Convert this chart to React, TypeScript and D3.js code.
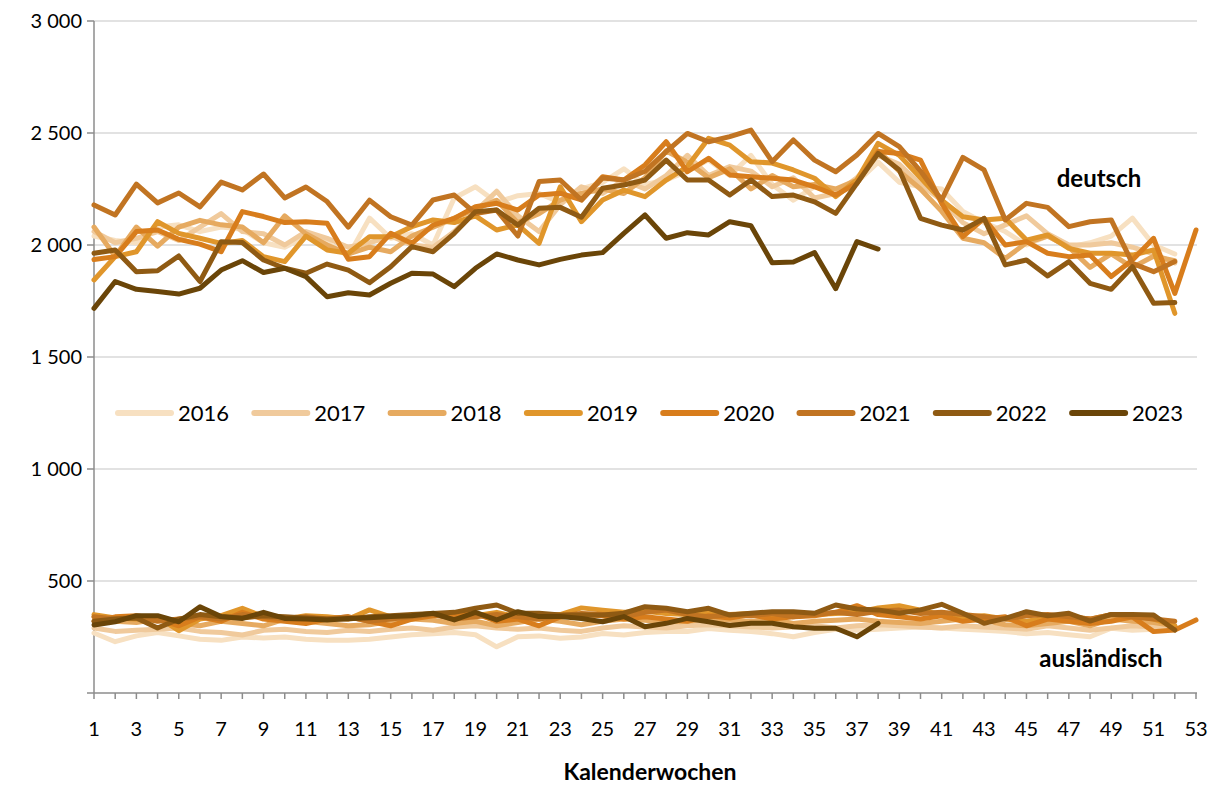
import React from 'react';
import * as d3 from 'd3';

const years = ['2016', '2017', '2018', '2019', '2020', '2021', '2022', '2023'];
const colors = ['#f7e0c1', '#f0ca9c', '#e6aa60', '#e0962b', '#d87d1c', '#c17422', '#8f5a13', '#6a4508'];
const yTicks = [500, 1000, 1500, 2000, 2500, 3000];
const xLabels = d3.range(1, 54, 2);

// deutsch
const deutsch2016 = [2040, 2020, 2010, 2080, 2090, 2060, 2080, 2070, 2010, 1990, 2040, 2010, 1950, 2120, 2030, 2050, 2000, 2210, 2260, 2190, 2220, 2230, 2190, 2250, 2280, 2340, 2270, 2290, 2330, 2380, 2310, 2400, 2270, 2200, 2260, 2240, 2280, 2370, 2280, 2260, 2250, 2150, 2100, 2060, 2000, 2040, 1990, 2010, 2040, 2120, 2000, 1960];
const deutsch2017 = [2060, 2010, 2030, 2060, 2020, 2080, 2140, 2060, 2050, 2000, 2060, 2030, 1990, 2010, 2040, 2000, 1990, 2060, 2150, 2240, 2130, 2060, 2180, 2260, 2230, 2290, 2250, 2310, 2400, 2310, 2350, 2330, 2260, 2300, 2210, 2230, 2300, 2400, 2360, 2270, 2200, 2100, 2050, 2090, 2130, 2050, 2000, 2000, 2010, 1990, 1960, 1920];
const deutsch2018 = [2080, 1950, 2080, 1995, 2080, 2110, 2090, 2080, 2010, 2130, 2050, 2000, 1960, 1990, 1970, 2040, 2080, 2120, 2160, 2200, 2100, 2140, 2200, 2230, 2250, 2230, 2300, 2420, 2370, 2300, 2340, 2250, 2310, 2260, 2270, 2250, 2290, 2420, 2330, 2250, 2150, 2030, 2010, 1940, 2010, 2040, 1990, 1900, 1960, 1900, 1950, 1930];
const deutsch2019 = [1844, 1948, 1970, 2104, 2052, 2030, 2007, 2020, 1948, 1926, 2040, 1978, 1963, 2037, 2037, 2082, 2112, 2100, 2130, 2067, 2090, 2007, 2260, 2104, 2201, 2245, 2216, 2290, 2350, 2476, 2446, 2372, 2366, 2335, 2298, 2216, 2290, 2454, 2400, 2300, 2200, 2126, 2112, 2119, 2022, 2045, 1985, 1963, 1963, 1955, 1978, 1695];
const deutsch2020 = [1935, 1948, 2060, 2067, 2025, 2004, 1970, 2149, 2127, 2100, 2104, 2097, 1936, 1948, 2052, 2007, 2089, 2119, 2171, 2186, 2156, 2223, 2231, 2201, 2305, 2290, 2357, 2461, 2327, 2387, 2313, 2305, 2298, 2290, 2260, 2223, 2275, 2417, 2409, 2379, 2186, 2037, 2119, 2000, 2015, 1963, 1948, 1955, 1859, 1933, 2030, 1784, 2067];
const deutsch2021 = [2179, 2134, 2272, 2188, 2232, 2170, 2281, 2246, 2317, 2210, 2259, 2194, 2080, 2200, 2126, 2089, 2201, 2223, 2141, 2156, 2040, 2283, 2290, 2201, 2299, 2290, 2329, 2417, 2498, 2461, 2484, 2513, 2372, 2469, 2379, 2327, 2402, 2498, 2439, 2330, 2201, 2391, 2335, 2112, 2186, 2168, 2082, 2104, 2112, 1918, 1881, 1926];
const deutsch2022 = [1963, 1978, 1881, 1885, 1951, 1837, 2015, 2011, 1933, 1896, 1874, 1915, 1888, 1832, 1903, 1993, 1970, 2052, 2149, 2156, 2089, 2164, 2168, 2124, 2253, 2268, 2290, 2379, 2290, 2290, 2223, 2290, 2216, 2223, 2193, 2141, 2275, 2409, 2335, 2119, 2089, 2067, 2119, 1911, 1933, 1862, 1926, 1829, 1802, 1903, 1740, 1743];
const deutsch2023 = [1717, 1837, 1802, 1792, 1781, 1807, 1888, 1930, 1877, 1896, 1859, 1769, 1787, 1777, 1829, 1874, 1870, 1814, 1896, 1960, 1933, 1911, 1936, 1955, 1966, 2052, 2134, 2030, 2055, 2045, 2104, 2086, 1921, 1924, 1966, 1805, 2015, 1982];

// ausländisch
const ausl2016 = [268, 229, 255, 270, 255, 240, 235, 250, 245, 250, 240, 235, 235, 240, 250, 260, 265, 270, 260, 206, 251, 255, 244, 250, 266, 259, 270, 275, 275, 288, 280, 275, 265, 251, 270, 285, 280, 285, 290, 295, 290, 285, 280, 274, 265, 270, 260, 251, 289, 280, 285, 290];
const ausl2017 = [290, 275, 280, 285, 290, 275, 270, 259, 280, 285, 275, 270, 280, 275, 285, 290, 280, 295, 300, 290, 285, 290, 280, 275, 290, 300, 295, 290, 300, 305, 300, 295, 290, 295, 300, 290, 300, 305, 300, 295, 290, 300, 295, 290, 285, 300, 290, 280, 290, 300, 295, 285];
const ausl2018 = [340, 320, 315, 330, 310, 300, 320, 310, 300, 330, 320, 310, 300, 305, 320, 330, 325, 310, 320, 300, 315, 330, 320, 305, 320, 330, 325, 315, 320, 330, 325, 320, 330, 310, 320, 325, 330, 320, 315, 310, 320, 330, 325, 305, 300, 310, 320, 300, 330, 320, 315, 300];
const ausl2019 = [350, 335, 330, 340, 278, 330, 345, 378, 340, 330, 345, 340, 330, 371, 340, 330, 350, 340, 345, 360, 340, 345, 350, 380, 370, 360, 365, 355, 350, 360, 350, 355, 340, 345, 350, 355, 360, 380, 390, 370, 350, 340, 345, 330, 320, 335, 340, 330, 350, 345, 330, 300];
const ausl2020 = [320, 340, 345, 330, 300, 340, 320, 360, 330, 320, 310, 330, 340, 320, 300, 330, 345, 350, 355, 320, 330, 300, 340, 350, 345, 330, 340, 330, 320, 345, 335, 350, 330, 340, 345, 360, 390, 350, 340, 330, 345, 320, 330, 340, 300, 330, 320, 310, 320, 340, 274, 281, 326];
const ausl2021 = [340, 330, 340, 320, 330, 340, 330, 350, 340, 330, 340, 330, 340, 320, 330, 340, 350, 330, 340, 350, 340, 330, 345, 355, 350, 340, 360, 370, 350, 340, 350, 345, 355, 340, 350, 360, 350, 365, 370, 355, 360, 350, 340, 330, 345, 350, 340, 330, 350, 340, 330, 320];
const ausl2022 = [320, 330, 335, 290, 330, 350, 340, 335, 345, 340, 335, 330, 330, 340, 345, 350, 355, 360, 378, 393, 356, 356, 348, 348, 348, 356, 385, 378, 363, 378, 348, 356, 363, 363, 356, 393, 375, 371, 356, 371, 396, 356, 311, 333, 363, 345, 356, 321, 351, 351, 348, 281];
const ausl2023 = [304, 318, 345, 345, 318, 385, 341, 333, 360, 333, 330, 326, 333, 336, 341, 345, 356, 326, 360, 326, 363, 341, 341, 333, 318, 341, 296, 311, 333, 318, 301, 311, 311, 296, 289, 289, 251, 311];

const deutschSeries = [deutsch2016, deutsch2017, deutsch2018, deutsch2019, deutsch2020, deutsch2021, deutsch2022, deutsch2023];
const auslSeries = [ausl2016, ausl2017, ausl2018, ausl2019, ausl2020, ausl2021, ausl2022, ausl2023];

const W = 1216;
const H = 787;
const font = 'Lato, "Open Sans", sans-serif';

export default function App() {
  const x = d3.scaleLinear().domain([1, 53]).range([94, 1196]);
  const y = d3.scaleLinear().domain([0, 3000]).range([693, 21]);
  const line = d3.line<number>().x((d, i) => x(i + 1)).y(d => y(d));
  const fmt = (v: number) => d3.format(',')(v).replace(',', '\u00a0');
  const weeks = d3.range(1, 54);

  return (
    <svg width={W} height={H} style={{ position: 'absolute', left: 0, top: 0, background: '#fff' }} fontFamily={font}>
      {/* grid */}
      {yTicks.map(t => (
        <g key={t}>
          <line x1={x(1)} x2={1197} y1={y(t)} y2={y(t)} stroke="#d9d9d9" strokeWidth={1.5} />
          <line x1={87} x2={x(1)} y1={y(t)} y2={y(t)} stroke="#8c8c8c" strokeWidth={1.5} />
          <text x={82} y={y(t)} dy="0.36em" textAnchor="end" fontSize={20} fill="#000">{fmt(t)}</text>
        </g>
      ))}
      {/* axes */}
      <line x1={x(1)} x2={x(1)} y1={y(3000)} y2={y(0)} stroke="#8c8c8c" strokeWidth={1.5} />
      <line x1={87} x2={1197} y1={y(0)} y2={y(0)} stroke="#8c8c8c" strokeWidth={1.5} />
      {weeks.map(w => (
        <line key={w} x1={x(w)} x2={x(w)} y1={y(0)} y2={y(0) + 6} stroke="#8c8c8c" strokeWidth={1.5} />
      ))}
      {xLabels.map(w => (
        <text key={w} x={x(w)} y={729} dy="0.36em" textAnchor="middle" fontSize={20} fill="#000">{w}</text>
      ))}
      <text x={650} y={772} dy="0.36em" textAnchor="middle" fontSize={23} fontWeight="bold" fill="#000">Kalenderwochen</text>

      {/* lines */}
      {years.map((yr, i) => (
        <g key={yr} fill="none" stroke={colors[i]} strokeWidth={5} strokeLinejoin="round" strokeLinecap="round">
          <path d={line(deutschSeries[i]) || ''} />
          <path d={line(auslSeries[i]) || ''} />
        </g>
      ))}

      {/* labels */}
      <text x={1099} y={178} dy="0.36em" textAnchor="middle" fontSize={24} fontWeight="bold" fill="#000">deutsch</text>
      <text x={1101} y={658} dy="0.36em" textAnchor="middle" fontSize={24} fontWeight="bold" fill="#000">ausländisch</text>

      {/* legend */}
      {years.map((yr, i) => {
        const lx = 118 + i * 136.3;
        return (
          <g key={yr}>
            <line x1={lx} x2={lx + 53} y1={413} y2={413} stroke={colors[i]} strokeWidth={6} strokeLinecap="round" />
            <text x={lx + 60} y={413} dy="0.36em" fontSize={22} fill="#000">{yr}</text>
          </g>
        );
      })}
    </svg>
  );
}
